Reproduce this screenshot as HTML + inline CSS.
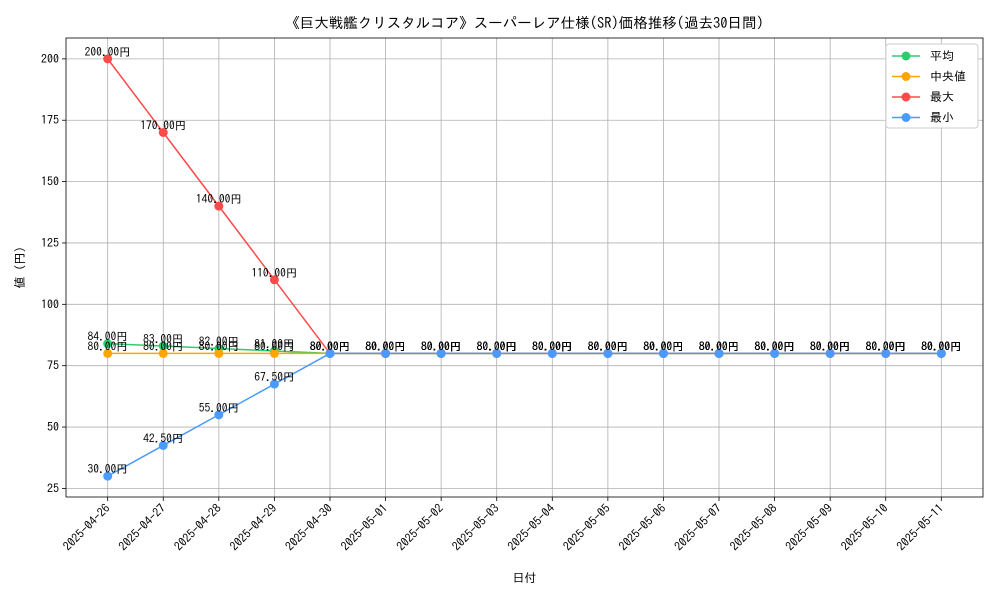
<!DOCTYPE html>
<html><head><meta charset="utf-8">
<style>
body{margin:0;background:#fff;}
svg text{font-family:"IPAGothic","Noto Sans CJK JP",sans-serif;}
</style></head>
<body>
<svg id="chart" width="1000" height="600" xmlns="http://www.w3.org/2000/svg"></svg>
<script>
const categories=["2025-04-26","2025-04-27","2025-04-28","2025-04-29","2025-04-30","2025-05-01","2025-05-02","2025-05-03","2025-05-04","2025-05-05","2025-05-06","2025-05-07","2025-05-08","2025-05-09","2025-05-10","2025-05-11"];
const avgValues=[84,83,82,81,80,80,80,80,80,80,80,80,80,80,80,80];
const medianValues=[80,80,80,80,80,80,80,80,80,80,80,80,80,80,80,80];
const maxValues=[200,170,140,110,80,80,80,80,80,80,80,80,80,80,80,80];
const minValues=[30,42.5,55,67.5,80,80,80,80,80,80,80,80,80,80,80,80];
const yTicks=[25,50,75,100,125,150,175,200];
const seriesNames=["平均"," 中央値","最大","最小"];
const seriesColors=["#2ecc71","#ffa500","#ff4a4a","#4a9bff"];

const svg=document.getElementById('chart');
const NS='http://www.w3.org/2000/svg';
function mk(tag,attrs,parent){const e=document.createElementNS(NS,tag);for(const k in attrs)e.setAttribute(k,attrs[k]);(parent||svg).appendChild(e);return e;}
const L=66,R=983,T=38,B=497;
const all=[...avgValues,...medianValues,...maxValues,...minValues];
const dmin=Math.min(...all),dmax=Math.max(...all),pad=(dmax-dmin)*0.05;
const y0=dmin-pad,y1=dmax+pad;
const n=categories.length,xpad=(n-1)*0.05;
const xs=i=>L+(i+xpad)/(n-1+2*xpad)*(R-L);
const ys=v=>B-(v-y0)/(y1-y0)*(B-T);

const grid=mk('g',{});


categories.forEach((c,i)=>{
  const x=xs(i);
  mk('line',{x1:x,x2:x,y1:T,y2:B,stroke:'#b0b0b0','stroke-width':0.8},grid);
  mk('line',{x1:x,x2:x,y1:B,y2:B+4,stroke:'#000','stroke-width':0.8});
  const t=mk('text',{x:x+3,y:B+12,'font-size':12,'text-anchor':'end',transform:`rotate(-45 ${x+3} ${B+12})`});
  t.textContent=c;
  
  
});
yTicks.forEach(v=>{
  const y=ys(v);
  mk('line',{x1:L,x2:R,y1:y,y2:y,stroke:'#b0b0b0','stroke-width':0.8},grid);
  mk('line',{x1:L-4,x2:L,y1:y,y2:y,stroke:'#000','stroke-width':0.8});
  const t=mk('text',{x:L-7,y:y+4,'font-size':12,'text-anchor':'end'});
  t.textContent=v;
  
  
});

const seriesData=[avgValues,medianValues,maxValues,minValues];
seriesData.forEach((vals,s)=>{
  const g=mk('g',{});
  
  
  mk('polyline',{points:vals.map((v,i)=>xs(i)+','+ys(v)).join(' '),fill:'none',stroke:seriesColors[s],'stroke-width':1.5},g);
  vals.forEach((v,i)=>{
    const c=mk('circle',{cx:xs(i),cy:ys(v),r:4.5,fill:seriesColors[s]},g);
    
    
    const t=mk('text',{x:xs(i),y:ys(v)-3,'font-size':11.5,'text-anchor':'middle'},g);
    t.textContent=v.toFixed(2)+'円';
    
    
  });
});

const frame=mk('rect',{x:L,y:T,width:R-L,height:B-T,fill:'none',stroke:'#000','stroke-width':0.8});



const title=mk('text',{x:(L+R)/2,y:28,'font-size':14.5,'text-anchor':'middle'});
title.textContent='《巨大戦艦クリスタルコア》スーパーレア仕様(SR)価格推移(過去30日間)';


const xt=mk('text',{x:(L+R)/2,y:582,'font-size':12,'text-anchor':'middle'});
xt.textContent='日付';


const yt=mk('text',{x:24,y:(T+B)/2,'font-size':12,'text-anchor':'middle',transform:`rotate(-90 24 ${(T+B)/2})`});
yt.textContent='値 (円)';



const lg=mk('g',{});


mk('rect',{x:886,y:44,width:92,height:84,fill:'#fff',stroke:'#ccc',rx:3},lg);
seriesNames.forEach((nm,s)=>{
  const y=56+s*20.5;
  const e=mk('g',{},lg);
  
  
  mk('line',{x1:892,x2:920,y1:y,y2:y,stroke:seriesColors[s],'stroke-width':1.5},e);
  mk('circle',{cx:906,cy:y,r:4.5,fill:seriesColors[s]},e);
  const t=mk('text',{x:930,y:y+4,'font-size':12,'xml:space':'preserve'},e);
  t.textContent=nm;
});
</script>
</body></html>
